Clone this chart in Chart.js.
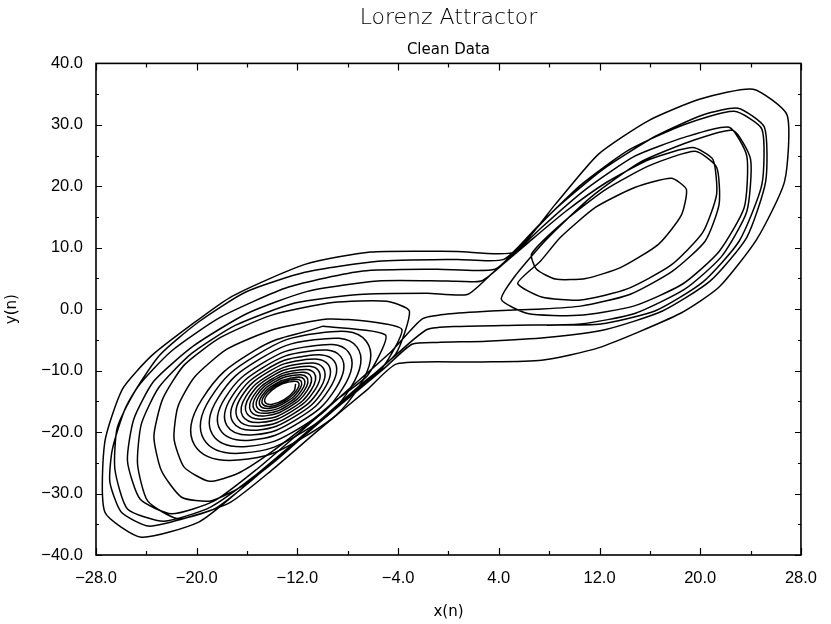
<!DOCTYPE html>
<html><head><meta charset="utf-8">
<script src="https://cdn.jsdelivr.net/npm/chart.js@4.4.1/dist/chart.umd.min.js"></script>
<style>html,body{margin:0;padding:0;background:#fff}#wrap{width:831px;height:624px}</style>
</head><body><div id="wrap"><canvas id="c" width="831" height="624"></canvas></div>
<script>
// Axis ticks
const xTicks = [-28,-20,-12,-4,4,12,20,28];
const xMinorTicks = [-24,-16,-8,0,8,16,24];
const yTicks = [-40,-30,-20,-10,0,10,20,30,40];
const yMinorTicks = [-35,-25,-15,-5,5,15,25,35];

// Left-wing inner spiral, ring by ring (x(n), y(n))
const ring01 = [[-12.14,-12.15],[-12.28,-13.33],[-13.05,-14.71],[-13.99,-15.47],[-14.57,-15.17],[-14.42,-13.99],[-13.66,-12.62],[-12.71,-11.86]];
const ring02 = [[-11.93,-11.90],[-12.09,-13.30],[-12.99,-14.91],[-14.09,-15.79],[-14.77,-15.42],[-14.61,-14.02],[-13.72,-12.41],[-12.61,-11.53]];
const ring03 = [[-11.73,-11.65],[-11.90,-13.27],[-12.92,-15.12],[-14.19,-16.12],[-14.97,-15.67],[-14.80,-14.05],[-13.78,-12.20],[-12.51,-11.21]];
const ring04 = [[-11.49,-11.36],[-11.68,-13.26],[-12.84,-15.40],[-14.30,-16.52],[-15.21,-15.96],[-15.02,-14.06],[-13.86,-11.92],[-12.40,-10.80]];
const ring05 = [[-11.26,-11.07],[-11.46,-13.25],[-12.76,-15.68],[-14.41,-16.92],[-15.44,-16.26],[-15.25,-14.07],[-13.94,-11.64],[-12.29,-10.40]];
const ring06 = [[-10.99,-10.73],[-11.21,-13.21],[-12.68,-15.96],[-14.55,-17.36],[-15.71,-16.59],[-15.49,-14.11],[-14.02,-11.36],[-12.15,-9.96]];
const ring07 = [[-10.68,-10.35],[-10.92,-13.19],[-12.58,-16.31],[-14.69,-17.87],[-16.02,-16.97],[-15.78,-14.13],[-14.12,-11.01],[-12.01,-9.45]];
const ring08 = [[-10.35,-9.94],[-10.61,-13.14],[-12.48,-16.66],[-14.86,-18.41],[-16.35,-17.39],[-16.09,-14.18],[-14.22,-10.67],[-11.84,-8.91]];
const ring09 = [[-9.98,-9.48],[-10.26,-13.11],[-12.36,-17.07],[-15.03,-19.03],[-16.73,-17.85],[-16.44,-14.21],[-14.35,-10.25],[-11.67,-8.29]];
const ring10 = [[-9.57,-8.97],[-9.89,-13.05],[-12.23,-17.49],[-15.23,-19.68],[-17.13,-18.35],[-16.81,-14.27],[-14.47,-9.83],[-11.47,-7.64]];
const ring11 = [[-9.10,-8.39],[-9.46,-12.98],[-12.09,-17.98],[-15.47,-20.44],[-17.60,-18.93],[-17.25,-14.34],[-14.61,-9.34],[-11.24,-6.88]];
const ring12 = [[-8.56,-7.72],[-8.96,-12.91],[-11.93,-18.54],[-15.73,-21.31],[-18.14,-19.60],[-17.74,-14.42],[-14.77,-8.78],[-10.97,-6.01]];
const ring13 = [[-7.95,-6.96],[-8.39,-12.86],[-11.73,-19.23],[-16.02,-22.34],[-18.75,-20.36],[-18.31,-14.46],[-14.97,-8.09],[-10.68,-4.98]];
const ring14 = [[-7.28,-6.13],[-7.77,-12.77],[-11.52,-19.93],[-16.35,-23.42],[-19.43,-21.19],[-18.94,-14.56],[-15.18,-7.39],[-10.35,-3.90]];
const ring15 = [[-6.53,-5.21],[-7.10,-12.61],[-11.32,-20.63],[-16.73,-24.56],[-20.17,-22.11],[-19.60,-14.71],[-15.38,-6.70],[-9.97,-2.76]];

// Outer loops of the trajectory
const loopA = [[-5.0,-4.2],[-6.4,-10.7],[-8.8,-14.6],[-11.5,-19.2],[-14.3,-23.6],[-16.7,-26.7],[-19.0,-28.0],[-21.0,-25.7],[-21.8,-21.1],[-21.5,-15.9],[-20.2,-11.1],[-17.6,-6.5],[-13.9,-3.3],[-9.6,-1.6],[-6.3,-2.0]];
const loopB = [[-3.7,-3.3],[-5.2,-9.4],[-7.8,-14.1],[-10.8,-19.4],[-13.7,-24.6],[-16.5,-28.9],[-18.9,-31.2],[-21.2,-30.6],[-22.8,-26.3],[-23.4,-20.7],[-22.7,-14.6],[-21.0,-9.1],[-18.1,-4.6],[-14.1,-1.0],[-9.2,1.1],[-4.9,1.3],[-3.1,-0.3]];
const leftL1 = [[-4.2,-7.3],[-7.1,-12.5],[-10.0,-17.7],[-12.9,-22.9],[-15.9,-28.3],[-18.6,-32.5],[-21.5,-34.1],[-23.9,-31.2],[-24.7,-25.2],[-24.4,-18.7],[-23.0,-12.7],[-20.4,-7.2],[-16.9,-2.6],[-12.2,1.0],[-7.1,2.4],[-1.7,2.6],[1.5,2.4]];
const rightQ2 = [[3.4,5.7],[6.2,10.6],[9.3,15.9],[12.6,20.7],[16.0,24.4],[19.4,26.3],[21.0,24.4],[21.3,18.7],[20.2,12.5],[17.7,7.2],[14.2,3.3],[10.5,1.5],[7.4,2.0],[5.5,4.2]];
const rightQ1 = [[7.3,7.8],[8.9,11.7],[11.7,16.6],[14.8,19.8],[17.7,21.3],[18.9,19.5],[18.5,15.3],[16.7,10.6],[13.7,6.8],[10.9,5.0],[8.5,4.9],[7.0,6.5]];
const rightQ2b = [[6.6,9.0],[9.2,14.3],[12.5,19.5],[16.0,23.4],[19.6,25.7],[21.3,23.1],[21.5,17.1],[20.4,11.1],[17.8,6.2],[14.4,2.4],[10.5,0.5],[7.0,0.0],[3.4,-0.3],[-0.1,-0.8],[-2.1,-1.6]];
const leftL2 = [[-4.5,-6.8],[-7.8,-12.8],[-11.5,-19.5],[-15.2,-26.0],[-18.6,-31.2],[-22.0,-33.3],[-24.5,-30.9],[-25.5,-24.7],[-25.0,-17.9],[-23.4,-11.7],[-20.2,-5.9],[-16.0,-0.7],[-11.2,2.9],[-5.6,4.6],[-0.1,4.6],[2.6,4.6]];
const rightQ3 = [[4.6,7.8],[7.4,13.3],[10.9,19.5],[14.8,24.9],[18.8,28.0],[22.3,29.6],[23.7,24.9],[23.5,16.6],[21.5,9.4],[18.6,4.1],[14.7,0.5],[10.3,-1.0],[6.3,-0.7],[4.2,1.6]];
const rightQ3b = [[5.4,5.7],[7.8,11.4],[11.3,18.2],[15.2,23.9],[19.2,27.3],[22.6,29.1],[24.0,24.4],[23.7,15.9],[21.7,8.6],[18.8,3.3],[14.8,-0.7],[10.5,-2.4],[5.4,-2.6],[0.7,-2.8],[-1.7,-3.3]];
const leftL3 = [[-4.1,-7.3],[-8.0,-14.3],[-11.9,-21.1],[-15.5,-27.3],[-18.9,-32.2],[-22.6,-34.5],[-25.5,-32.5],[-26.5,-26.0],[-26.3,-19.2],[-24.7,-12.7],[-22.0,-6.8],[-18.1,-1.3],[-12.7,3.6],[-6.8,6.2],[-0.9,6.5],[3.7,6.5]];
const rightQ4 = [[5.8,10.6],[8.5,16.3],[12.3,22.8],[16.4,28.1],[20.2,31.6],[23.0,32.7],[25.1,29.6],[25.2,20.8],[23.7,11.7],[20.8,4.6],[17.0,-0.3],[12.5,-3.3],[7.8,-4.6],[3.0,-5.2],[-0.9,-5.4],[-2.9,-5.7]];
const leftL4 = [[-5.2,-9.8],[-9.2,-16.6],[-13.1,-23.3],[-16.5,-29.3],[-19.8,-34.6],[-24.4,-37.1],[-27.3,-33.0],[-27.3,-21.6],[-25.9,-13.0],[-23.6,-7.6],[-20.6,-2.8],[-17.2,2.1],[-11.4,7.3],[-6.2,9.3],[0.7,9.4],[5.2,9.3]];
const rightQ5 = [[8.5,17.1],[11.9,25.2],[15.9,30.7],[20.0,34.2],[24.2,35.8],[26.9,31.6],[26.7,20.8],[24.5,11.4],[21.5,3.6],[18.4,-0.7],[11.9,-6.3],[7.4,-8.3],[2.2,-8.6],[-4.1,-8.9]];
const leftL5 = [[-6.4,-13.0],[-10.4,-19.8],[-14.1,-26.3],[-17.3,-31.4],[-20.4,-33.7],[-23.8,-35.3],[-26.0,-33.0],[-26.9,-28.1],[-26.7,-22.8],[-25.6,-15.8],[-23.0,-7.6],[-19.8,-2.0],[-16.1,2.8],[-11.4,6.0],[-5.6,7.8],[0.7,8.1],[4.4,8.1]];
const rightQ4b = [[7.0,13.3],[10.5,20.2],[14.4,26.0],[18.8,30.1],[22.7,32.2],[24.9,29.3],[24.9,20.3],[23.1,11.1],[20.2,4.4],[16.4,-0.3],[12.1,-2.4],[7.8,-2.6]];

const spiralRings = [ring01,ring02,ring03,ring04,ring05,ring06,ring07,ring08,ring09,ring10,ring11,ring12,ring13,ring14,ring15];
const outerLoops = [loopA,loopB,leftL1,rightQ2,rightQ1,rightQ2b,leftL2,rightQ3,rightQ3b,leftL3,rightQ4,leftL4,rightQ5,leftL5,rightQ4b];

const toXY = p => ({x: p[0], y: p[1]});
const spiralData = spiralRings.flat().map(toXY);
const orbitData = [ring15[ring15.length - 1]].concat(outerLoops.flat()).map(toXY);

const fmt = v => (v < 0 ? '\u2212' : '') + Math.abs(v).toFixed(1);
const strokeFont = "'DejaVu Sans', 'Liberation Sans', sans-serif";
const tickFont = "'Liberation Sans', Arial, sans-serif";

const framePlugin = {
  id: 'frame',
  afterDatasetsDraw(chart) {
    const {ctx, chartArea: a, scales: {x, y}} = chart;
    ctx.save();
    ctx.strokeStyle = '#000';
    ctx.lineWidth = 1.6;
    ctx.strokeRect(a.left, a.top, a.right - a.left, a.bottom - a.top);
    ctx.lineWidth = 1.2;
    ctx.beginPath();
    const xt = (vals, len) => vals.forEach(v => {
      const px = Math.round(x.getPixelForValue(v)) + 0.5;
      ctx.moveTo(px, a.bottom); ctx.lineTo(px, a.bottom - len);
      ctx.moveTo(px, a.top); ctx.lineTo(px, a.top + len);
    });
    const yt = (vals, len) => vals.forEach(v => {
      const py = Math.round(y.getPixelForValue(v)) + 0.5;
      ctx.moveTo(a.left, py); ctx.lineTo(a.left + len, py);
      ctx.moveTo(a.right, py); ctx.lineTo(a.right - len, py);
    });
    xt(xTicks, 7); xt(xMinorTicks, 4);
    yt(yTicks, 6); yt(yMinorTicks, 3);
    ctx.stroke();
    ctx.restore();
  }
};

new Chart(document.getElementById('c'), {
  type: 'scatter',
  data: {
    datasets: [
      {data: spiralData, showLine: true, borderColor: '#000', borderWidth: 1.5, pointRadius: 0, tension: 0.45, fill: false},
      {data: orbitData, showLine: true, borderColor: '#000', borderWidth: 1.5, pointRadius: 0, tension: 0.2, fill: false}
    ]
  },
  options: {
    responsive: false,
    animation: false,
    devicePixelRatio: 1,
    layout: {padding: {left: 0, right: 25, top: 0, bottom: 0}},
    plugins: {
      legend: {display: false},
      tooltip: {enabled: false},
      title: {display: true, text: 'Lorenz Attractor', fullSize: false, color: '#000',
        font: {family: strokeFont, size: 22, weight: '200'}, padding: {top: 5, bottom: 6}},
      subtitle: {display: true, text: 'Clean Data', fullSize: false, color: '#000',
        font: {family: strokeFont, size: 15, weight: 'normal'}, padding: {top: 4, bottom: 4}}
    },
    scales: {
      x: {
        type: 'linear', min: -28, max: 28,
        afterBuildTicks: s => { s.ticks = xTicks.map(v => ({value: v})); },
        afterFit: s => { s.height = 69; },
        grid: {display: false, drawTicks: false},
        border: {display: false},
        ticks: {padding: 14, color: '#000', autoSkip: false, maxRotation: 0,
          font: {family: tickFont, size: 16.5}, callback: v => fmt(v)},
        title: {display: true, text: 'x(n)', color: '#000',
          font: {family: strokeFont, size: 15}, padding: {top: 0, bottom: 3}}
      },
      y: {
        type: 'linear', min: -40, max: 40,
        afterBuildTicks: s => { s.ticks = yTicks.map(v => ({value: v})); },
        afterFit: s => { s.width = 96; },
        grid: {display: false, drawTicks: false},
        border: {display: false},
        ticks: {padding: 13, color: '#000', autoSkip: false,
          font: {family: tickFont, size: 16.5}, callback: v => fmt(v)},
        title: {display: true, text: 'y(n)', color: '#000',
          font: {family: strokeFont, size: 15}, padding: {top: 3, bottom: 0}}
      }
    }
  },
  plugins: [framePlugin]
});
</script>
</body></html>
